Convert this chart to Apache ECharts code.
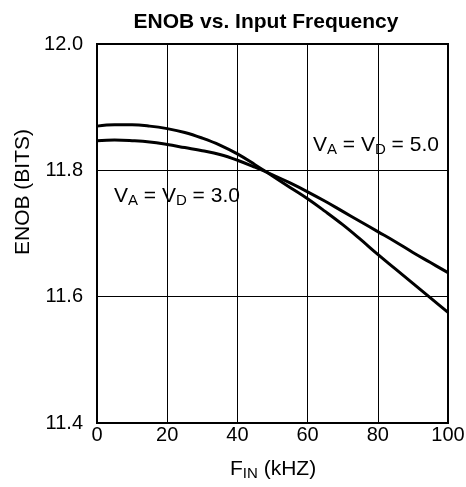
<!DOCTYPE html>
<html>
<head>
<meta charset="utf-8">
<script src="https://cdn.jsdelivr.net/npm/echarts@6/dist/echarts.min.js"></script>
<style>
  html, body { margin: 0; padding: 0; background: #fff; }
  #chart { width: 466px; height: 487px; }
</style>
</head>
<body>
<div id="chart"></div>
<script>
// input frequency, kHz
const freq = [0, 5, 10, 15, 20, 25, 30, 35, 40, 45, 50, 55, 60, 65, 70, 75, 80, 85, 90, 95, 100]
// ENOB curves
const enobSteep = [11.870, 11.872, 11.872, 11.870, 11.866, 11.860, 11.851, 11.840, 11.826, 11.809, 11.791,
  11.773, 11.755, 11.735, 11.714, 11.691, 11.667, 11.644, 11.621, 11.598, 11.575]
const enobFlat = [11.847, 11.848, 11.847, 11.845, 11.841, 11.836, 11.831, 11.825, 11.816, 11.805, 11.793,
  11.780, 11.766, 11.751, 11.735, 11.719, 11.703, 11.687, 11.670, 11.654, 11.638]
const yTicks = [11.4, 11.6, 11.8, 12.0]

const font = 'Liberation Sans, Arial, sans-serif'
const sub = { fontSize: 15, fontFamily: font, color: '#000', verticalAlign: 'bottom', padding: [9, 0, 0, 0] }
const big = { fontSize: 21, fontFamily: font, color: '#000' }

function pairs(ys) {
  return freq.map((f, i) => [f, ys[i]])
}

const chart = echarts.init(document.getElementById('chart'), null, { renderer: 'canvas' })

chart.setOption({
  animation: false,
  backgroundColor: '#fff',
  title: {
    text: 'ENOB vs. Input Frequency',
    left: 261,
    top: 7,
    textAlign: 'center',
    textStyle: { fontFamily: font, fontSize: 21, fontWeight: 'bold', color: '#000' },
  },
  grid: { left: 97, right: 18, top: 44, bottom: 64, outerBoundsMode: 'none' },
  xAxis: {
    type: 'value',
    min: 0,
    max: 100,
    interval: 20,
    axisLine: { show: true, lineStyle: { color: '#000', width: 2 } },
    axisTick: { show: false },
    axisLabel: { color: '#000', fontSize: 20, fontFamily: font, margin: 2 },
    splitLine: { show: true, lineStyle: { color: '#000', width: 1 } },
  },
  yAxis: {
    type: 'value',
    min: 11.4,
    max: 12.0,
    interval: 0.2,
    axisLine: { show: true, lineStyle: { color: '#000', width: 2 } },
    axisTick: { show: false },
    axisLabel: {
      color: '#000',
      fontSize: 20,
      fontFamily: font,
      margin: 14,
      formatter: (v) => {
        const t = yTicks.find((k) => Math.abs(k - v) < 1e-6)
        return t === undefined ? '' : t.toFixed(1)
      },
    },
    splitLine: { show: true, lineStyle: { color: '#000', width: 1 } },
  },
  graphic: [
    // frame on top and right
    {
      type: 'rect',
      shape: { x: 97, y: 44, width: 351, height: 379 },
      style: { fill: 'none', stroke: '#000', lineWidth: 2 },
      z: 10,
      silent: true,
    },
    {
      type: 'text',
      x: 23,
      y: 192,
      rotation: Math.PI / 2,
      style: {
        text: 'ENOB (BITS)',
        fontFamily: font,
        fontSize: 21,
        fill: '#000',
        align: 'center',
        verticalAlign: 'middle',
      },
    },
    {
      type: 'text',
      x: 230,
      y: 457,
      style: {
        text: '{a|F}{s|IN}{a| (kHZ)}',
        rich: { a: big, s: sub },
      },
    },
    {
      type: 'text',
      x: 313,
      y: 133,
      style: {
        text: '{a|V}{s|A}{a| = V}{s|D}{a| = 5.0}',
        rich: { a: big, s: sub },
      },
    },
    {
      type: 'text',
      x: 114,
      y: 184,
      style: {
        text: '{a|V}{s|A}{a| = V}{s|D}{a| = 3.0}',
        rich: { a: big, s: sub },
      },
    },
  ],
  series: [
    {
      name: 'steep',
      type: 'line',
      data: pairs(enobSteep),
      smooth: 0.4,
      showSymbol: false,
      lineStyle: { color: '#000', width: 3 },
    },
    {
      name: 'flat',
      type: 'line',
      data: pairs(enobFlat),
      smooth: 0.4,
      showSymbol: false,
      lineStyle: { color: '#000', width: 3 },
    },
  ],
})
</script>
</body>
</html>
